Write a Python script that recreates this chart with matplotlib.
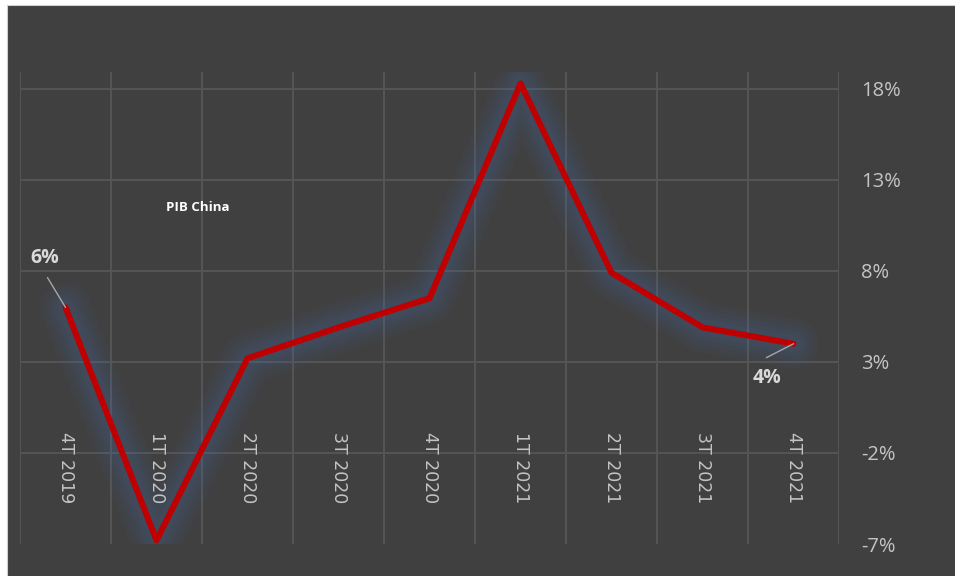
import matplotlib.pyplot as plt

# Data
quarters = ['4T 2019', '1T 2020', '2T 2020', '3T 2020', '4T 2020',
            '1T 2021', '2T 2021', '3T 2021', '4T 2021']
pib = [6.0, -6.8, 3.2, 4.9, 6.5, 18.3, 7.9, 4.9, 4.0]
y_ticks = [-7, -2, 3, 8, 13, 18]

BG = '#404040'
GRID = '#545454'
TXT = '#C4C4C4'

fig = plt.figure(figsize=(9.55, 5.76), dpi=100)
fig.patch.set_facecolor('white')
# dark chart area with small white margin on left/top
fig.add_artist(plt.Rectangle((7 / 955, -0.01), 1, 1.01 - 5 / 576, transform=fig.transFigure,
                             facecolor=BG, edgecolor='#D0D0D0', linewidth=0.8, zorder=-5))

ax = fig.add_axes([20 / 955, 32 / 576, 819 / 955, 472 / 576])
ax.set_facecolor(BG)
x = list(range(len(quarters)))

# grid (no line at the bottom value)
for b in [i - 0.5 for i in range(len(quarters) + 1)]:
    ax.axvline(b, color=GRID, lw=1.5, zorder=1)
for t in y_ticks[1:]:
    ax.axhline(t, color=GRID, lw=1.5, zorder=1)

# soft glow under the line
for w, a in [(36, 0.06), (30, 0.07), (24, 0.08), (18, 0.08), (12, 0.08)]:
    ax.plot(x, pib, color='#4A6699', lw=w, alpha=a, solid_joinstyle='round',
            solid_capstyle='round', zorder=2)
ax.plot(x, pib, color='#C00000', lw=4.3, solid_joinstyle='round', solid_capstyle='round', zorder=3)

ax.set_xlim(-0.5, len(quarters) - 0.5)
ax.set_ylim(-7, 18.93)
ax.set_xticks([])
ax.yaxis.tick_right()
ax.set_yticks(y_ticks)
ax.set_yticklabels([f'{t}%' for t in y_ticks], color=TXT, fontsize=14.5, family='Open Sans')
ax.tick_params(axis='y', length=0, pad=16)
for s in ax.spines.values():
    s.set_visible(False)

# category labels inside the plot
for i, q in enumerate(quarters):
    ax.text(i, -0.85, q, rotation=270, ha='center', va='top', color=TXT,
            fontsize=12.5, family='DejaVu Sans', zorder=4)

ax.text(0.217, 0.712, 'PIB China', transform=ax.transAxes, ha='center', va='center',
        color='white', fontsize=9.5, fontweight='bold', family='Open Sans')

# data labels with leader lines
lead = dict(arrowstyle='-', color='#A6A6A6', lw=1, shrinkA=0, shrinkB=0)
ax.annotate('', xy=(0, pib[0]), xytext=(-13, 21.5), textcoords='offset points',
            arrowprops=lead, zorder=5)
ax.text(-0.225, 8.71, f'{pib[0]:.0f}%', ha='center', va='center', color='#D9D9D9',
        fontsize=14, fontweight='bold', family='Open Sans', zorder=5)
ax.annotate('', xy=(8, pib[-1]), xytext=(-19.5, -10), textcoords='offset points',
            arrowprops=lead, zorder=5)
ax.text(7.71, 2.12, f'{pib[-1]:.0f}%', ha='center', va='center', color='#D9D9D9',
        fontsize=14, fontweight='bold', family='Open Sans', zorder=5)

fig.savefig('out.png', dpi=100)
